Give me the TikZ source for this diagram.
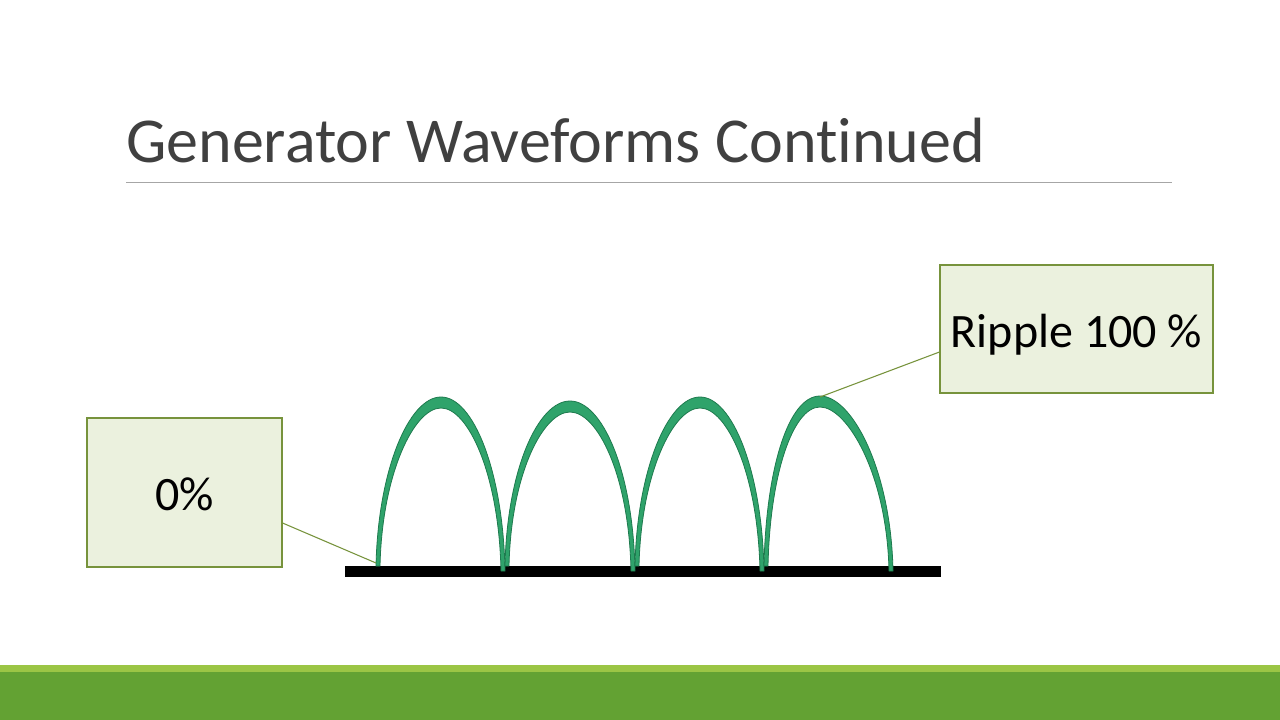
\documentclass[tikz,border=0pt]{standalone}
\usepackage{fontspec}
\setmainfont{Carlito}[Ligatures=CommonOff]
\usetikzlibrary{calc}
\definecolor{titlegray}{HTML}{404040}
\definecolor{boxfill}{HTML}{EBF1DE}
\definecolor{boxline}{HTML}{77933C}
\definecolor{archfill}{HTML}{2FA36B}
\definecolor{archline}{HTML}{1E7A4E}
\definecolor{bandlight}{HTML}{9BC545}
\definecolor{banddark}{HTML}{63A233}
\tikzset{
  callout/.style={draw=boxline, fill=boxfill, line width=0.8pt, inner sep=0pt, font=\fontsize{36}{43}\selectfont},
  lead/.style={draw=boxline, line width=0.8pt},
  archband/.style={fill=archfill, draw=archline, line width=0.6pt, line join=round},
}
\begin{document}
\begin{tikzpicture}[x=0.75pt,y=-0.75pt]
\useasboundingbox (0,0) rectangle (1280,720);
\fill[white] (0,0) rectangle (1280,720);
% bottom band
\fill[bandlight] (0,665) rectangle (1280,672);
\fill[banddark] (0,672) rectangle (1280,720);
% title
\node[anchor=base west, inner sep=0pt, text=titlegray, font=\fontsize{48}{58}\selectfont] (title) at (126,163) {Generator Waveforms Continued};
\draw[gray!70, line width=0.6pt] (126,182) -- (1172,182);
% baseline bar
\fill[black] (345,566) rectangle (941,577);
% arches
\foreach \xa/\xb/\xp/\yt in {376/505/441/397, 505/635/570/401, 635/764/700/397, 764/893/820/396}{
  \path[archband] (\xa,566) .. controls (\xa+2,470) and (\xp-32,\yt) .. (\xp,\yt)
     .. controls (\xp+32,\yt) and (\xb-2,470) .. (\xb,571)
     -- (\xb-4,571) .. controls (\xb-6,474) and (\xp+27,\yt+11) .. (\xp,\yt+11)
     .. controls (\xp-27,\yt+11) and (\xa+6,474) .. (\xa+4,566) -- cycle;
}
% callouts
\node[callout, minimum width=146.25pt, minimum height=111.75pt] (zero) at (184.5,492.5) {\raisebox{-1.5pt}[\height][\depth]{0\%}};
\node[callout, minimum width=204.75pt, minimum height=96pt] (ripple) at (1076.5,329) {\raisebox{-4.5pt}[\height][\depth]{Ripple 100 \%}};
\coordinate (zfoot) at (376,563);
\coordinate (rpeak) at (820,397);
\draw[lead] (zero.east |- 0,523) -- (zfoot);
\draw[lead] (ripple.west |- 0,352) -- (rpeak);
\end{tikzpicture}
\end{document}
